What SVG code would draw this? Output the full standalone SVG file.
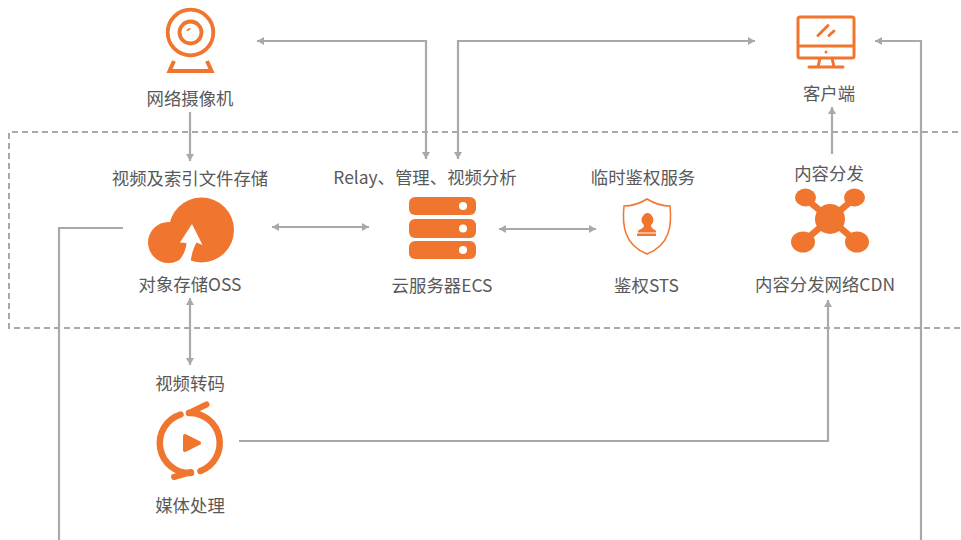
<svg xmlns="http://www.w3.org/2000/svg" width="961" height="540" viewBox="0 0 961 540">
<style>
text{font-family:"Noto Sans CJK SC","Noto Sans",sans-serif;font-size:17.400px;fill:#595959;text-anchor:middle}
.c{fill:none;stroke:#a9a9a9;stroke-width:2.200}
.o{fill:#f0752f}
.s{fill:none;stroke:#f0752f}
</style>
<defs>
<marker id="a" markerUnits="userSpaceOnUse" markerWidth="8" markerHeight="8" refX="7" refY="4" orient="auto-start-reverse"><path d="M0 0L7 4L0 8Z" fill="#a9a9a9"/></marker>
</defs>
<rect width="961" height="540" fill="#fff"/>
<path d="M970 328H9V132H970" fill="none" stroke="#a9a9a9" stroke-width="2" stroke-dasharray="6 4"/>
<g id="connectors">
<path class="c" d="M257 41H426V159" marker-start="url(#a)" marker-end="url(#a)"/>
<path class="c" d="M458 159V41H755" marker-start="url(#a)" marker-end="url(#a)"/>
<path class="c" d="M190 112V161" marker-end="url(#a)"/>
<path class="c" d="M272 227H369" marker-start="url(#a)" marker-end="url(#a)"/>
<path class="c" d="M499 229H596" marker-start="url(#a)" marker-end="url(#a)"/>
<path class="c" d="M832 154V107" marker-end="url(#a)"/>
<path class="c" d="M190 298V365" marker-start="url(#a)" marker-end="url(#a)"/>
<path class="c" d="M239 441H828V300" marker-end="url(#a)"/>
<path class="c" d="M123 228H59V540"/>
<path class="c" d="M921 540V41H875" marker-end="url(#a)"/>
</g>
<g id="camera">
<circle class="s" cx="190.500" cy="32.500" r="22.800" stroke-width="3.800"/>
<circle class="s" cx="190.500" cy="32.500" r="11" stroke-width="3.800"/>
<path class="o" d="M186 31Q187 28 191 28Q190 31 186 31Z"/>
<path class="s" stroke-width="4" d="M174 61L169.500 71H211.500L207 61"/>
<text x="190" y="104.500">网络摄像机</text>
</g>
<g id="client">
<rect class="s" x="798" y="17" width="56" height="41" rx="2" stroke-width="3"/>
<path class="s" stroke-width="3" d="M798 46H854M820 58L818 67M832 58L834 67"/>
<path class="s" stroke-width="3" stroke-linecap="round" d="M809 67H843M818 35.500L828 25.500M829 35.500L834 31"/>
<circle class="o" cx="826" cy="52" r="1.500"/>
<text x="829" y="99.500">客户端</text>
</g>
<g id="oss">
<circle class="o" cx="168.500" cy="242.500" r="20.500"/>
<circle class="o" cx="201.500" cy="230" r="32.500"/>
<path d="M192 224L202.500 245L196.500 242.500C194 247 191 254 190.500 265L178 262C183 256 186 250 186.500 243L180 242.500Z" fill="#fff"/>
<text x="190" y="184.500">视频及索引文件存储</text>
<text x="190" y="290.500">对象存储OSS</text>
</g>
<g id="ecs">
<rect class="o" x="409" y="197" width="67" height="18" rx="6"/>
<rect class="o" x="409" y="219" width="67" height="19" rx="6"/>
<rect class="o" x="409" y="241" width="67" height="18" rx="6"/>
<circle cx="463" cy="206" r="4" fill="#fff"/>
<circle cx="463" cy="228.500" r="4" fill="#fff"/>
<circle cx="463" cy="250" r="4" fill="#fff"/>
<text x="425" y="183.500">Relay、管理、视频分析</text>
<text x="442" y="291.500">云服务器ECS</text>
</g>
<g id="sts">
<path class="s" stroke-width="1.500" d="M647 199C655 204 663 206 670 206C672 225 670 245 647 254C624 245 622 225 624 206C631 206 639 204 647 199Z"/>
<path class="o" d="M644 225C641 223 641 218 643 216C645 212 650 212 652 216C654 218 654 223 651 225C651 228 653 229 655 230Q657 231 656 232.500H638Q637 231 639 230C641 229 644 228 644 225Z"/>
<rect class="o" x="637" y="233.500" width="19" height="2.500"/>
<text x="643" y="183.500">临时鉴权服务</text>
<text x="646.500" y="291.500">鉴权STS</text>
</g>
<g id="cdn">
<path class="s" stroke-width="6.500" d="M805 198L830 219L855 198M803 242L830 219L857 242"/>
<circle class="o" cx="830" cy="219" r="15"/>
<ellipse class="o" cx="805.500" cy="197.500" rx="10.500" ry="9"/>
<ellipse class="o" cx="854.500" cy="197.500" rx="10.500" ry="9"/>
<ellipse class="o" cx="803" cy="242" rx="12" ry="10.500"/>
<ellipse class="o" cx="857" cy="242" rx="12" ry="10.500"/>
<text x="829" y="179.500">内容分发</text>
<text x="825" y="290.500">内容分发网络CDN</text>
</g>
<g id="media">
<path class="s" stroke-width="6.500" stroke-linecap="round" d="M180.500 414.500A30 30 0 0 0 191 473"/>
<path class="s" stroke-width="6.500" stroke-linecap="round" d="M189 413A30 30 0 0 1 200.500 471"/>
<path class="s" stroke-width="6" stroke-linecap="round" d="M206.500 404.500L189 413M174 477L191 472"/>
<path class="o" stroke="#f0752f" stroke-width="4" stroke-linejoin="round" d="M185 436L199 443L185 450Z"/>
<text x="190" y="389.500">视频转码</text>
<text x="190" y="511.500">媒体处理</text>
</g>
</svg>
